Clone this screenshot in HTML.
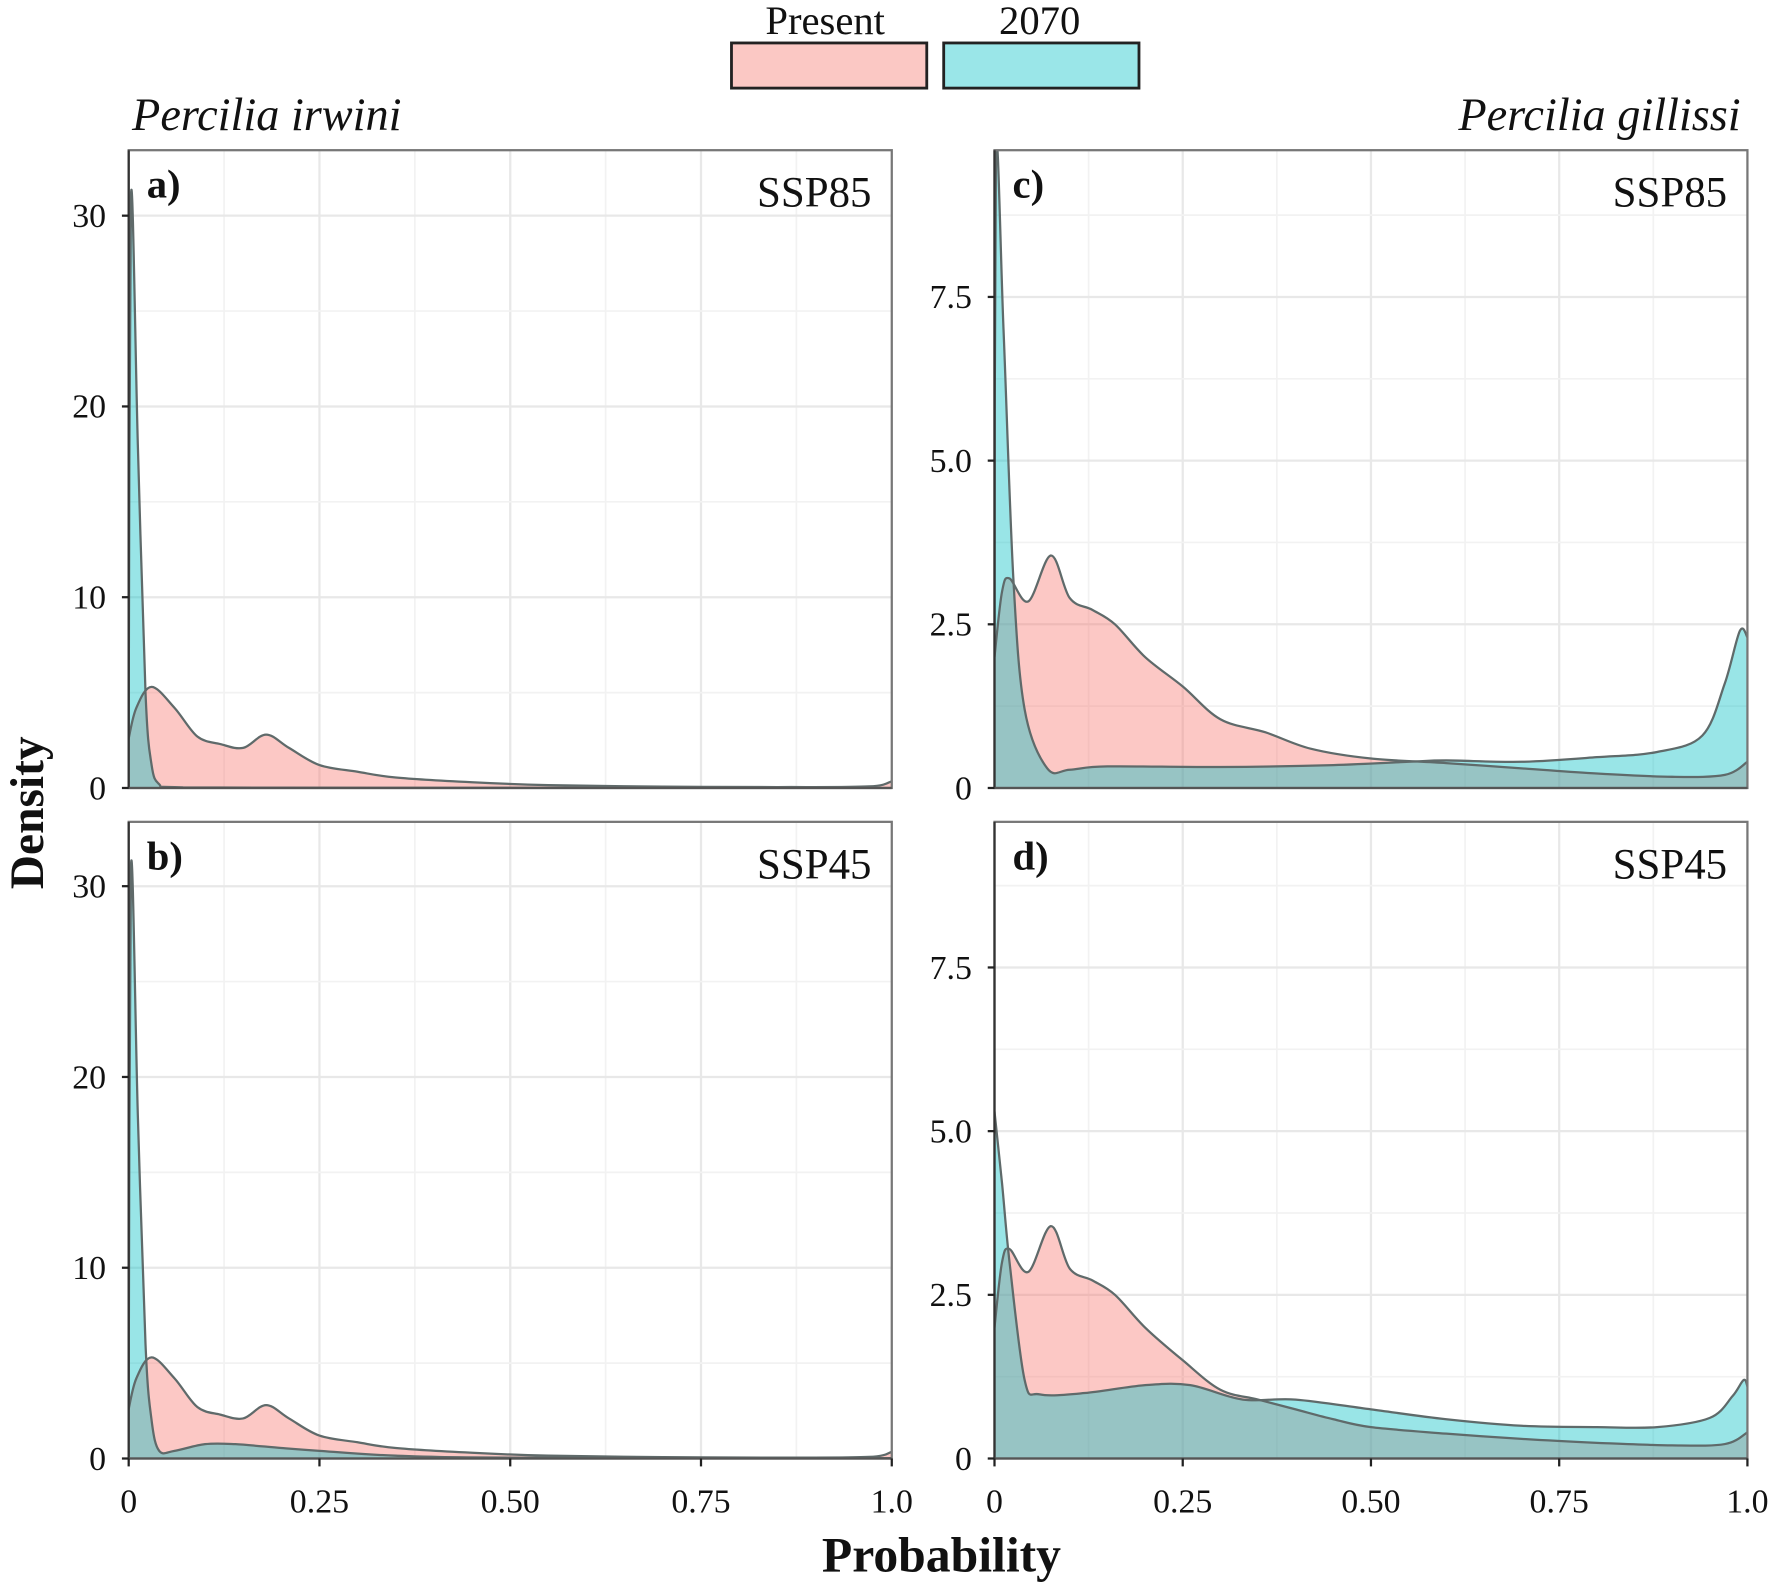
<!DOCTYPE html>
<html><head><meta charset="utf-8"><style>
html,body{margin:0;padding:0;background:#fff}
svg{display:block}
text{font-family:"Liberation Serif",serif;fill:#111}
</style></head><body>
<svg id="s" width="1770" height="1585" viewBox="0 0 1568 1404" xmlns="http://www.w3.org/2000/svg">
<rect width="1568" height="1404" fill="#fff"/>
<defs id="defs"></defs>
<g id="panels"></g>
<text x="731" y="30" font-size="36" text-anchor="middle">Present</text>
<text x="921" y="30" font-size="36" text-anchor="middle">2070</text>
<rect x="648" y="38" width="173" height="40" fill="#fbc8c4" stroke="#222" stroke-width="2.5"/>
<rect x="836" y="38" width="173" height="40" fill="#9ae6e8" stroke="#222" stroke-width="2.5"/>
<text x="117" y="115" font-size="41" font-style="italic">Percilia irwini</text>
<text x="1542" y="115" font-size="41" font-style="italic" text-anchor="end">Percilia gillissi</text>
<text transform="translate(38,720) rotate(-90)" font-size="42" font-weight="bold" text-anchor="middle">Density</text>
<text x="834" y="1392" font-size="44" font-weight="bold" text-anchor="middle">Probability</text>
</svg>
<script>
var NS="http://www.w3.org/2000/svg",G=document.getElementById("panels"),D=document.getElementById("defs");
function el(t,a,txt,par){var e=document.createElementNS(NS,t);for(var k in a)e.setAttribute(k,a[k]);if(txt!=null)e.textContent=txt;(par||G).appendChild(e);return e;}
function path(pts,X,Y){
 var p=pts.map(function(q){return [X(q[0]),Y(q[1])]});
 var d="M"+p[0][0]+","+p[0][1];
 for(var i=0;i<p.length-1;i++){var p0=p[Math.max(0,i-1)],p1=p[i],p2=p[i+1],p3=p[Math.min(p.length-1,i+2)];
  var c1=[p1[0]+(p2[0]-p0[0])/6,p1[1]+(p2[1]-p0[1])/6],c2=[p2[0]-(p3[0]-p1[0])/6,p2[1]-(p3[1]-p1[1])/6];
  d+=" C"+c1[0].toFixed(1)+","+c1[1].toFixed(1)+" "+c2[0].toFixed(1)+","+c2[1].toFixed(1)+" "+p2[0].toFixed(1)+","+p2[1].toFixed(1);}
 return d;}
var pinkL=[[0,2.6],[0.01,4.2],[0.03,5.3],[0.06,4.2],[0.09,2.7],[0.12,2.3],[0.15,2.1],[0.18,2.8],[0.21,2.1],[0.25,1.2],[0.3,0.85],[0.35,0.55],[0.45,0.3],[0.55,0.15],[0.7,0.07],[0.85,0.05],[0.97,0.08],[1,0.35]];
var cyanA=[[0,3],[0.003,31],[0.012,18],[0.022,5],[0.03,1.2],[0.04,0.2],[0.06,0.05],[0.2,0.02],[1,0.0]];
var cyanB=[[0,3],[0.003,31],[0.012,18],[0.022,6],[0.03,2],[0.04,0.4],[0.06,0.4],[0.1,0.75],[0.14,0.75],[0.2,0.55],[0.25,0.4],[0.35,0.15],[0.5,0.05],[1,0.02]];
var pinkR=[[0,2.0],[0.01,3.0],[0.02,3.2],[0.045,2.85],[0.075,3.55],[0.1,2.9],[0.13,2.72],[0.16,2.5],[0.2,2.0],[0.25,1.55],[0.3,1.05],[0.36,0.85],[0.42,0.6],[0.5,0.45],[0.6,0.38],[0.7,0.3],[0.8,0.22],[0.9,0.17],[0.97,0.2],[1,0.4]];
var cyanC=[[0,2.2],[0.002,9.7],[0.012,7],[0.025,3.2],[0.04,1.2],[0.07,0.3],[0.1,0.28],[0.15,0.33],[0.3,0.32],[0.45,0.35],[0.55,0.4],[0.6,0.42],[0.7,0.4],[0.8,0.47],[0.88,0.55],[0.94,0.8],[0.97,1.6],[0.99,2.4],[1,2.3]];
var pinkD=[[0,2.0],[0.01,3.0],[0.02,3.2],[0.045,2.85],[0.075,3.55],[0.1,2.9],[0.13,2.72],[0.16,2.5],[0.2,2.0],[0.25,1.5],[0.3,1.05],[0.35,0.9],[0.4,0.75],[0.45,0.6],[0.5,0.48],[0.6,0.38],[0.7,0.3],[0.8,0.24],[0.9,0.2],[0.97,0.22],[1,0.4]];
var cyanD=[[0,5.3],[0.01,4.2],[0.02,3],[0.04,1.2],[0.06,0.98],[0.12,1.0],[0.2,1.12],[0.26,1.12],[0.33,0.9],[0.4,0.9],[0.5,0.75],[0.6,0.6],[0.7,0.5],[0.8,0.48],[0.88,0.48],[0.95,0.62],[0.98,0.95],[0.995,1.2],[1,1.1]];
var cid=0;
function panel(x0,x1,y0,yT,ppu,ticks,minor,yl,label,ssp,series){
 var X=function(v){return x0+v*(x1-x0)},Y=function(v){return y0-v*ppu};
 var id="c"+(cid++);var cp=el("clipPath",{id:id},null,D);el("rect",{x:x0,y:yT,width:x1-x0,height:y0-yT},null,cp);
 el("rect",{x:x0,y:yT,width:x1-x0,height:y0-yT,fill:"#fff"});
 for(var i=1;i<8;i++){var gx=X(i/8);el("line",{x1:gx,x2:gx,y1:yT,y2:y0,stroke:i%2?"#f2f2f2":"#e8e8e8","stroke-width":i%2?1.5:2});}
 minor.forEach(function(v){el("line",{x1:x0,x2:x1,y1:Y(v),y2:Y(v),stroke:"#f2f2f2","stroke-width":1.5});});
 ticks.forEach(function(v){el("line",{x1:x0,x2:x1,y1:Y(v),y2:Y(v),stroke:"#e8e8e8","stroke-width":2});});
 var g=el("g",{"clip-path":"url(#"+id+")"});
 series.forEach(function(s){var d=path(s[0],X,Y);var pts=s[0];
  el("path",{d:d+" L"+X(pts[pts.length-1][0])+","+y0+" L"+X(pts[0][0])+","+y0+" Z",fill:s[1],"fill-opacity":0.4,stroke:"none"},null,g);});
 series.forEach(function(s){el("path",{d:path(s[0],X,Y),fill:"none",stroke:"#5f6a6a","stroke-width":2},null,g);});
 el("rect",{x:x0,y:yT,width:x1-x0,height:y0-yT,fill:"none",stroke:"#777","stroke-width":2});
 el("line",{x1:x0,x2:x0,y1:yT,y2:y0,stroke:"#333","stroke-width":2});
 el("line",{x1:x0,x2:x1,y1:y0,y2:y0,stroke:"#555","stroke-width":2});
 ticks.concat([0]).forEach(function(v){el("line",{x1:x0-6,x2:x0,y1:Y(v),y2:Y(v),stroke:"#222","stroke-width":2});});
 yl.forEach(function(t){el("text",{x:x0-20,y:Y(t[0])+10,"font-size":30,"text-anchor":"end"},t[1]);});
 el("text",{x:x0+16,y:yT+42,"font-size":36,"font-weight":"bold"},label);
 el("text",{x:x1-18,y:yT+50,"font-size":38,"text-anchor":"end"},ssp);
 return X;}
var lt=[10,20,30],lm=[5,15,25],ly=[[0,"0"],[10,"10"],[20,"20"],[30,"30"]];
var rt=[2.5,5,7.5],rm=[1.25,3.75,6.25,8.75],ry=[[0,"0"],[2.5,"2.5"],[5,"5.0"],[7.5,"7.5"]];
panel(114,790,698,133,16.9,lt,lm,ly,"a)","SSP85",[[pinkL,"#f8766d"],[cyanA,"#00bfc4"]]);
var XB=panel(114,790,1292,728,16.9,lt,lm,ly,"b)","SSP45",[[pinkL,"#f8766d"],[cyanB,"#00bfc4"]]);
panel(881,1548,698,133,58,rt,rm,ry,"c)","SSP85",[[pinkR,"#f8766d"],[cyanC,"#00bfc4"]]);
var XD=panel(881,1548,1292,728,58,rt,rm,ry,"d)","SSP45",[[pinkD,"#f8766d"],[cyanD,"#00bfc4"]]);
var xl=[[0,"0"],[0.25,"0.25"],[0.5,"0.50"],[0.75,"0.75"],[1,"1.0"]];
[XB,XD].forEach(function(X){xl.forEach(function(t){var x=X(t[0]);
 el("line",{x1:x,x2:x,y1:1292,y2:1299,stroke:"#222","stroke-width":2});
 el("text",{x:x,y:1340,"font-size":30,"text-anchor":"middle"},t[1]);});});
</script>
</body></html>
